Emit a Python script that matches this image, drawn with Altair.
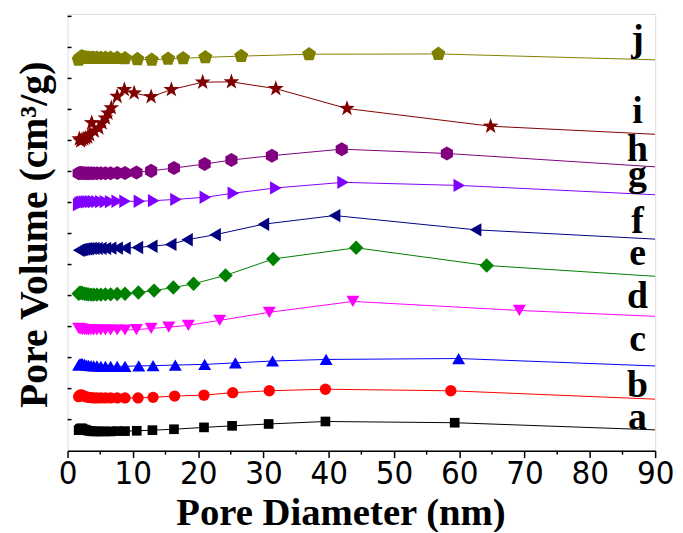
import altair as alt
import pandas as pd

# ---------------- data ----------------
SERIES = list("abcdefghij")
DENSE_X = [1.7, 1.9, 2.1, 2.3, 2.6, 2.9, 3.2, 3.6, 4.0, 4.5, 5.1, 5.8, 6.6, 7.6, 8.8]

a_dense = [0.66, 0.70, 0.72, 0.71, 0.68, 0.66, 0.64, 0.63, 0.62, 0.62, 0.62, 0.62, 0.62, 0.63, 0.63]
a_tail_x = [10.6, 13.0, 16.3, 20.9, 25.2, 30.8, 39.5, 59.3]
a_tail_y = [0.64, 0.66, 0.69, 0.75, 0.80, 0.86, 0.94, 0.90]

b_dense = [1.74, 1.79, 1.80, 1.78, 1.75, 1.73, 1.72, 1.71, 1.70, 1.70, 1.70, 1.70, 1.70, 1.70, 1.70]
b_tail_x = [10.8, 13.1, 16.4, 20.9, 25.3, 30.9, 39.5, 58.7]
b_tail_y = [1.70, 1.72, 1.76, 1.79, 1.87, 1.93, 1.98, 1.93]

c_dense = [2.76, 2.80, 2.81, 2.80, 2.78, 2.76, 2.75, 2.74, 2.73, 2.73, 2.72, 2.72, 2.72, 2.72, 2.72]
c_tail_x = [10.9, 13.1, 16.5, 21.0, 25.7, 31.4, 39.6, 59.9]
c_tail_y = [2.73, 2.74, 2.76, 2.78, 2.83, 2.89, 2.94, 2.97]

d_dense = [3.94, 3.93, 3.92, 3.91, 3.90, 3.90, 3.89, 3.89, 3.89, 3.89, 3.89, 3.89, 3.89, 3.89, 3.89]
d_tail_x = [10.55, 12.8, 15.5, 18.5, 23.3, 30.9, 43.7, 69.2]
d_tail_y = [3.90, 3.94, 3.98, 4.04, 4.20, 4.46, 4.81, 4.52]

e_dense = [5.06, 5.09, 5.09, 5.08, 5.06, 5.05, 5.04, 5.03, 5.03, 5.03, 5.03, 5.04, 5.04, 5.05, 5.06]
e_tail_x = [10.85, 13.25, 16.2, 19.3, 24.2, 31.5, 44.2, 64.2]
e_tail_y = [5.10, 5.16, 5.26, 5.38, 5.65, 6.18, 6.54, 5.97]

f_dense = [6.46, 6.47, 6.48, 6.49, 6.50, 6.51, 6.51, 6.52, 6.52, 6.52, 6.52, 6.52, 6.53, 6.53, 6.53]
f_tail_x = [10.7, 12.9, 15.8, 18.3, 22.6, 30.0, 40.9, 62.5]
f_tail_y = [6.55, 6.59, 6.65, 6.80, 6.96, 7.30, 7.58, 7.12]

g_dense = [7.93, 7.97, 8.00, 8.01, 8.02, 8.02, 8.03, 8.03, 8.03, 8.03, 8.03, 8.03, 8.03, 8.04, 8.04]
g_tail_x = [11.0, 13.2, 16.6, 21.1, 25.4, 31.9, 42.2, 60.0]
g_tail_y = [8.04, 8.06, 8.10, 8.17, 8.30, 8.47, 8.65, 8.55]

h_dense = [8.94, 8.95, 8.95, 8.95, 8.94, 8.94, 8.94, 8.94, 8.94, 8.94, 8.94, 8.94, 8.94, 8.95, 8.95]
h_tail_x = [10.55, 12.8, 16.3, 21.0, 25.1, 31.3, 42.0, 58.1]
h_tail_y = [8.97, 9.02, 9.11, 9.24, 9.37, 9.51, 9.72, 9.58]

i_x = [1.8, 2.0, 2.2, 2.5, 2.8, 3.1, 3.4, 3.7, 4.1, 4.8, 5.3, 5.8, 6.2, 6.7, 7.6, 8.7,
       10.2, 12.8, 15.9, 20.7, 25.1, 31.9, 42.8, 64.8]
i_y = [10.05, 9.98, 10.02, 10.05, 10.08, 10.11, 10.18, 10.57, 10.30, 10.40, 10.56, 10.72,
       10.88, 11.05, 11.42, 11.64, 11.53, 11.41, 11.64, 11.88, 11.89, 11.67, 11.03, 10.46]

j_dense = [12.60, 12.66, 12.70, 12.70, 12.68, 12.67, 12.66, 12.66, 12.66, 12.66, 12.66, 12.66, 12.66, 12.66, 12.65]
j_tail_x = [10.7, 12.9, 15.4, 17.7, 21.1, 26.6, 37.0, 56.8]
j_tail_y = [12.62, 12.60, 12.63, 12.65, 12.68, 12.72, 12.78, 12.79]

# value of each curve where it leaves the frame at 90 nm (line only)
END_X = 90
END_Y = [0.67, 1.66, 2.73, 4.33, 5.62, 6.82, 8.25, 9.15, 10.20, 12.60]

LABEL_X = 87.3
LABEL_Y = [0.70, 1.73, 3.20, 4.61, 5.98, 7.01, 8.54, 9.34, 10.56, 12.90]

Y_TICKS = list(range(1, 15))
X_MAJOR = list(range(0, 91, 10))
X_MINOR = list(range(5, 90, 10))

# ---------------- styles ----------------
COLORS = ["#000000", "#FF0000", "#0000FF", "#FF00FF", "#008000",
          "#000080", "#8000FF", "#800080", "#800000", "#808000"]
HEX = "M0,-1L0.866,-0.5L0.866,0.5L0,1L-0.866,0.5L-0.866,-0.5Z"
STAR = ("M0,-1L0.235,-0.324L0.951,-0.309L0.380,0.124L0.588,0.809L0,0.4"
        "L-0.588,0.809L-0.380,0.124L-0.951,-0.309L-0.235,-0.324Z")
PENT = "M0,-1L0.951,-0.309L0.588,0.809L-0.588,0.809L-0.951,-0.309Z"
SHAPES = ["square", "circle", "triangle-up", "triangle-down", "diamond",
          "triangle-left", "triangle-right", HEX, STAR, PENT]
SIZES = [95, 130, 170, 170, 210, 180, 180, 200, 280, 220]

# ---------------- build table ----------------
series_xy = {
    "a": (DENSE_X + a_tail_x, a_dense + a_tail_y),
    "b": (DENSE_X + b_tail_x, b_dense + b_tail_y),
    "c": (DENSE_X + c_tail_x, c_dense + c_tail_y),
    "d": (DENSE_X + d_tail_x, d_dense + d_tail_y),
    "e": (DENSE_X + e_tail_x, e_dense + e_tail_y),
    "f": (DENSE_X + f_tail_x, f_dense + f_tail_y),
    "g": (DENSE_X + g_tail_x, g_dense + g_tail_y),
    "h": (DENSE_X + h_tail_x, h_dense + h_tail_y),
    "i": (i_x, i_y),
    "j": (DENSE_X + j_tail_x, j_dense + j_tail_y),
}
rows = []
for k, s in enumerate(SERIES):
    xs, ys = series_xy[s]
    for x, y in zip(xs, ys):
        rows.append({"series": s, "x": x, "y": y, "marker": True, "sz": SIZES[k]})
    rows.append({"series": s, "x": END_X, "y": END_Y[k], "marker": False, "sz": SIZES[k]})
df = pd.DataFrame(rows)
labels = pd.DataFrame({"t": SERIES, "x": [LABEL_X] * len(SERIES), "y": LABEL_Y})
yt = pd.DataFrame({"y": Y_TICKS})
xm = pd.DataFrame({"x": X_MINOR})

SERIF = "Times New Roman, Liberation Serif, DejaVu Serif, serif"
NARROW = "Arial Narrow, Liberation Sans Narrow, DejaVu Sans Condensed, sans-serif"

xscale = alt.Scale(domain=[0, 90], nice=False, zero=False)
yscale = alt.Scale(domain=[0, 14.08], nice=False, zero=False)
cscale = alt.Scale(domain=SERIES, range=COLORS)

x_enc = alt.X("x:Q", scale=xscale, axis=alt.Axis(
    values=X_MAJOR, tickSize=7, tickWidth=1.5, tickColor="black",
    domainColor="black", domainWidth=1.5, grid=False,
    labelFont=NARROW, labelFontSize=33, labelColor="black", labelPadding=0,
    labelFlush=False,
    title="Pore Diameter (nm)", titleFont=SERIF, titleFontWeight="bold",
    titleFontSize=39, titleColor="black", titleX=275, titleY=62,
    titleAlign="center", titleBaseline="middle"))
y_enc = alt.Y("y:Q", scale=yscale, axis=alt.Axis(
    labels=False, ticks=False, domain=False, grid=False,
    title="Pore Volume (cm³/g)", titleFont=SERIF, titleFontWeight="bold",
    titleFontSize=40, titleColor="black", titleX=-33, titleY=222,
    titleAngle=270, titleAlign="center", titleBaseline="middle"))

lines = alt.Chart(df).mark_line(strokeWidth=1, clip=True).encode(
    x=x_enc, y=y_enc,
    color=alt.Color("series:N", scale=cscale, legend=None),
    order="x:Q")

points = alt.Chart(df).transform_filter("datum.marker").mark_point(
    filled=True, opacity=1, strokeWidth=0).encode(
    x="x:Q", y="y:Q",
    color=alt.Color("series:N", scale=cscale, legend=None),
    shape=alt.Shape("series:N", scale=alt.Scale(domain=SERIES, range=SHAPES), legend=None),
    size=alt.Size("sz:Q", scale=None))

text = alt.Chart(labels).mark_text(
    font=SERIF, fontWeight="bold", fontSize=38, align="center",
    baseline="alphabetic", color="black").encode(x="x:Q", y="y:Q", text="t:N")

yticks = alt.Chart(yt).mark_rule(color="black", strokeWidth=1.5).encode(
    y="y:Q", x=alt.value(0), x2=alt.value(4))

xminor = alt.Chart(xm).mark_rule(color="black", strokeWidth=1.5).encode(
    x="x:Q", y=alt.value(440), y2=alt.value(444))

chart = alt.layer(lines, points, text, yticks, xminor).properties(
    width=592, height=440,
    autosize=alt.AutoSizeParams(type="none"),
    padding={"left": 60, "top": 4, "right": 20, "bottom": 80},
).configure_view(stroke="black", strokeWidth=1.5).configure(background="white")

chart.save("out.html", embed_options={"renderer": "svg", "actions": False})
